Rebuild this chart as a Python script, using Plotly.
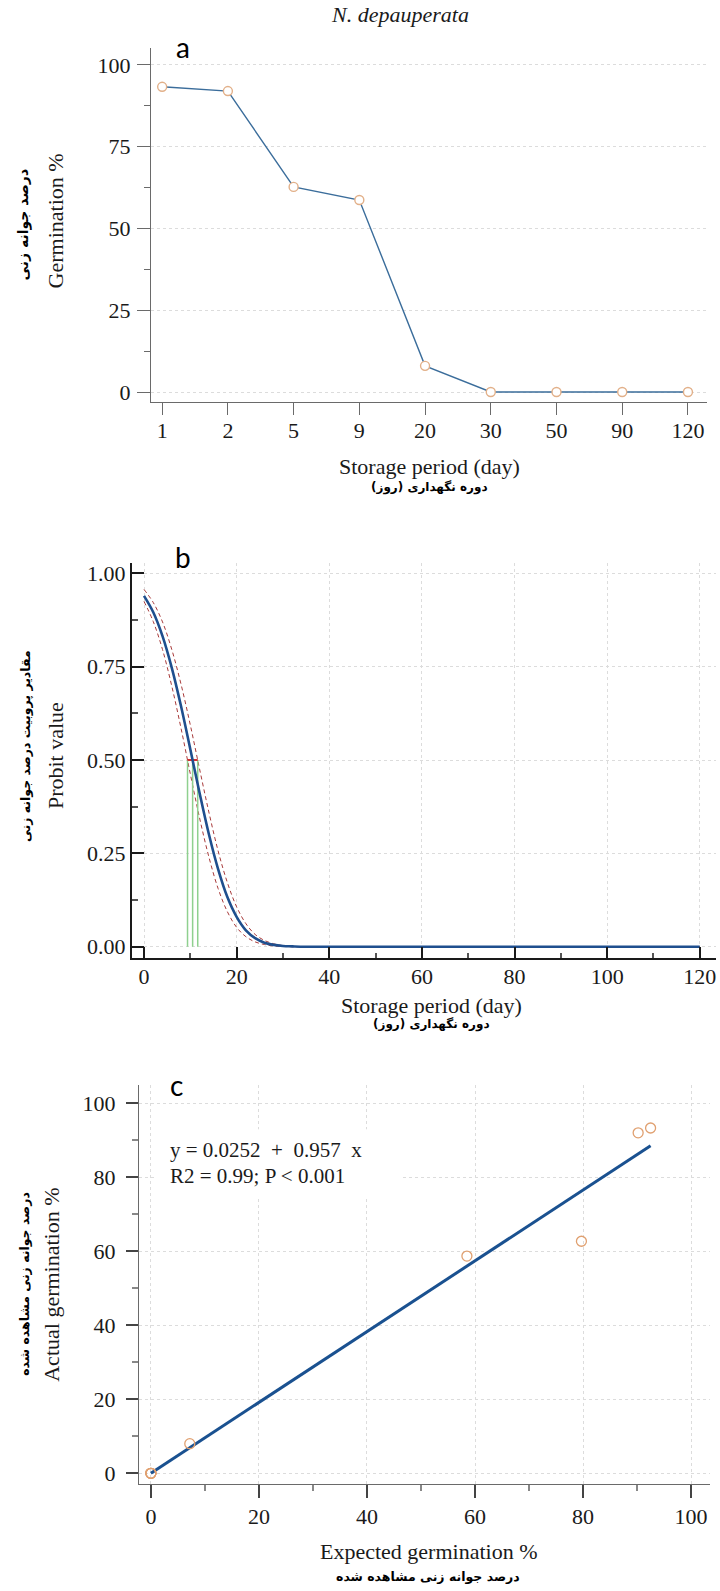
import plotly.graph_objects as go

W, H = 720, 1591


def px(x):
    return x / W


def py(y):
    return 1 - y / H


# ---------------- Panel a data ----------------
storage_days = ["1", "2", "5", "9", "20", "30", "50", "90", "120"]
germination_pct = [93.3, 92.0, 62.7, 58.7, 8.0, 0, 0, 0, 0]

# ---------------- Panel b data ----------------
probit_t = [0, 2, 4, 6, 8, 10, 12, 14, 16, 18, 20, 22, 24, 26, 28, 30, 32, 35, 120]
probit_fit = [0.940, 0.896, 0.832, 0.747, 0.644, 0.529, 0.412, 0.302, 0.208, 0.133,
              0.080, 0.044, 0.023, 0.011, 0.005, 0.002, 0.001, 0.0, 0.0]
probit_upper = [0.957, 0.922, 0.870, 0.796, 0.703, 0.594, 0.476, 0.361, 0.257, 0.172,
                0.107, 0.062, 0.033, 0.017, 0.008, 0.003, 0.001, 0.0, 0.0]
probit_lower = [0.925, 0.871, 0.796, 0.698, 0.585, 0.463, 0.345, 0.241, 0.156, 0.094,
                0.052, 0.027, 0.013, 0.006, 0.002, 0.001, 0.0, 0.0, 0.0]
ld50_days = [9.4, 10.5, 11.6]
ld50_level = 0.5

# ---------------- Panel c data ----------------
expected_pct = [0, 0, 0, 0, 7.2, 58.5, 79.7, 90.2, 92.5]
actual_pct = [0, 0, 0, 0, 8.0, 58.7, 62.7, 92.0, 93.3]
fit_x = [0, 92.5]
fit_y = [0.03, 88.5]
equation_lines = ["y = 0.0252\u00a0\u00a0+\u00a0\u00a00.957\u00a0\u00a0x", "R2 = 0.99; P < 0.001"]

SERIF = "Liberation Serif, Times New Roman, serif"
ARABIC = "DejaVu Sans, sans-serif"
TICKFONT = dict(family=SERIF, size=22, color="#1a1a1a")
GRID = "#dcdcdc"

fig = go.Figure()

# Panel a
fig.add_trace(go.Scatter(
    x=storage_days, y=germination_pct, mode="lines+markers",
    line=dict(color="#3b6d9b", width=1.4),
    marker=dict(symbol="circle", size=9, color="white",
                line=dict(color="#e2b089", width=1.4)),
    xaxis="x", yaxis="y", hoverinfo="skip"))

# Panel b
fig.add_trace(go.Scatter(
    x=probit_t, y=probit_lower, mode="lines", line_shape="spline",
    line=dict(color="#a83a3a", width=1.0, dash="4px,3px"), xaxis="x2", yaxis="y2"))
fig.add_trace(go.Scatter(
    x=probit_t, y=probit_upper, mode="lines", line_shape="spline",
    line=dict(color="#a83a3a", width=1.0, dash="4px,3px"), xaxis="x2", yaxis="y2"))
for d in ld50_days:
    fig.add_trace(go.Scatter(
        x=[d, d], y=[0, ld50_level], mode="lines",
        line=dict(color="#8fd08f", width=1.5), xaxis="x2", yaxis="y2"))
fig.add_trace(go.Scatter(
    x=[ld50_days[0], ld50_days[-1]], y=[ld50_level, ld50_level], mode="lines",
    line=dict(color="#d03030", width=2), xaxis="x2", yaxis="y2"))
fig.add_trace(go.Scatter(
    x=probit_t, y=probit_fit, mode="lines", line_shape="spline",
    line=dict(color="#1f4f8e", width=2.6), xaxis="x2", yaxis="y2"))

# Panel c
fig.add_trace(go.Scatter(
    x=fit_x, y=fit_y, mode="lines",
    line=dict(color="#1a5190", width=3), xaxis="x3", yaxis="y3"))
fig.add_trace(go.Scatter(
    x=expected_pct, y=actual_pct, mode="markers",
    marker=dict(symbol="circle-open", size=10, color="#e0a070",
                line=dict(width=1.3)),
    xaxis="x3", yaxis="y3"))

common_axis = dict(zeroline=False, tickfont=TICKFONT, showline=True)

fig.update_layout(
    width=W, height=H, margin=dict(l=0, r=0, t=0, b=0),
    paper_bgcolor="white", plot_bgcolor="white", showlegend=False,
    # ---- panel a ----
    xaxis=dict(common_axis, type="category", categoryorder="array",
               categoryarray=storage_days, range=[-0.17, 8.29],
               domain=[px(151), px(707)], anchor="y",
               linecolor="#6a6a6a", linewidth=1.3, ticks="outside", ticklen=12,
               tickcolor="#6a6a6a", tickwidth=1.2, showgrid=False,
               ticklabelstandoff=-4),
    yaxis=dict(common_axis, range=[-3.05, 105.2], domain=[py(402), py(47)],
               anchor="x", tickvals=[0, 25, 50, 75, 100],
               linecolor="#6a6a6a", linewidth=1.3, ticks="outside", ticklen=13,
               tickcolor="#6a6a6a", tickwidth=1.2,
               showgrid=True, gridcolor=GRID, griddash="dot", gridwidth=1,
               minor=dict(dtick=12.5, ticks="outside", ticklen=6,
                          tickcolor="#6a6a6a", showgrid=False),
               ticklabelstandoff=2),
    # ---- panel b ----
    xaxis2=dict(common_axis, range=[-2.59, 123.5], domain=[px(132), px(716)],
                anchor="y2", dtick=20, tick0=0,
                linecolor="#1a1a1a", linewidth=2, ticks="inside", ticklen=11,
                tickcolor="#1a1a1a", tickwidth=2,
                showgrid=True, gridcolor=GRID, griddash="dot",
                minor=dict(dtick=10, ticks="inside", ticklen=5,
                           tickcolor="#555", showgrid=False),
                ticklabelstandoff=-2),
    yaxis2=dict(common_axis, range=[-0.029, 1.029], domain=[py(959), py(563)],
                anchor="x2", tickvals=[0, 0.25, 0.5, 0.75, 1.0],
                tickformat=".2f",
                linecolor="#1a1a1a", linewidth=2, ticks="inside", ticklen=12,
                tickcolor="#1a1a1a", tickwidth=2,
                showgrid=True, gridcolor=GRID, griddash="dot",
                minor=dict(dtick=0.125, ticks="inside", ticklen=6,
                           tickcolor="#555", showgrid=False),
                ticklabelstandoff=0),
    # ---- panel c ----
    xaxis3=dict(common_axis, range=[-2.2, 103.5], domain=[px(139), px(710)],
                anchor="y3", dtick=20, tick0=0,
                linecolor="#6a6a6a", linewidth=1.3, ticks="outside", ticklen=13,
                tickcolor="#444", tickwidth=1.6,
                showgrid=True, gridcolor=GRID, griddash="dot",
                minor=dict(dtick=10, ticks="outside", ticklen=6,
                           tickcolor="#888", showgrid=False),
                ticklabelstandoff=-1),
    yaxis3=dict(common_axis, range=[-2.96, 104.85], domain=[py(1487), py(1087)],
                anchor="x3", dtick=20, tick0=0,
                linecolor="#6a6a6a", linewidth=1.3, ticks="outside", ticklen=12,
                tickcolor="#444", tickwidth=1.6,
                showgrid=True, gridcolor=GRID, griddash="dot",
                minor=dict(dtick=10, ticks="outside", ticklen=6,
                           tickcolor="#888", showgrid=False),
                ticklabelstandoff=6),
)

# white box behind the regression equation (covers gridlines)
fig.add_shape(type="rect", xref="paper", yref="paper",
              x0=px(157), x1=px(400), y0=py(1200), y1=py(1131),
              fillcolor="white", line=dict(width=0), layer="above")


def ann(text, x, y, size=22, family=SERIF, angle=0, xanchor="center",
        color="#1a1a1a", bold=False):
    if bold:
        text = "<b>" + text + "</b>"
    fig.add_annotation(text=text, x=px(x), y=py(y), xref="paper", yref="paper",
                       showarrow=False, textangle=angle, xanchor=xanchor,
                       yanchor="middle", font=dict(family=family, size=size, color=color))


ann("<i>N. depauperata</i>", 400, 14, size=22)
ann("a", 183, 46, size=28, family="Lato, Open Sans, sans-serif", color="black")
ann("b", 183, 557, size=28, family="Lato, Open Sans, sans-serif", color="black")
ann("c", 176, 1087, size=28, family="Lato, Open Sans, sans-serif", color="black")

# y titles
ann("Germination %", 55, 221, angle=-90)
ann("درصد جوانه زنی", 23, 224, size=14, family=ARABIC, angle=-90, bold=True, color="black")
ann("Probit value", 55, 757, angle=-90)
ann("مقادیر پروبیت درصد جوانه زنی", 25, 747, size=12.5, family=ARABIC, angle=-90, bold=True, color="black")
ann("Actual germination %", 52, 1287, angle=-90)
ann("درصد جوانه زنی مشاهده شده", 25, 1286, size=12.5, family=ARABIC, angle=-90, bold=True, color="black")

# x titles
ann("Storage period (day)", 429, 467)
ann("دوره نگهداری (روز)", 429, 488, size=12, family=ARABIC, bold=True, color="black")
ann("Storage period (day)", 431, 1007)
ann("دوره نگهداری (روز)", 431, 1026, size=12, family=ARABIC, bold=True, color="black")
ann("Expected germination %", 428, 1554)
ann("درصد جوانه زنی مشاهده شده", 428, 1579, size=12.5, family=ARABIC, bold=True, color="black")

# equation
ann(equation_lines[0], 168, 1152, size=21, xanchor="left")
ann(equation_lines[1], 168, 1178, size=21, xanchor="left")

fig.write_html("out.html", config={"displayModeBar": False},
               post_script="document.body.style.margin='0';document.body.style.padding='0';")
